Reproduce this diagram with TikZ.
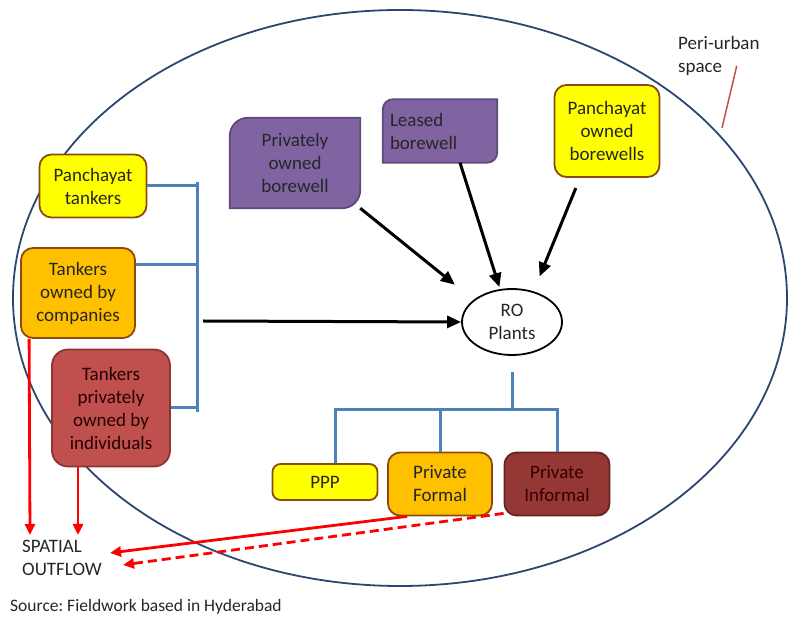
\documentclass[tikz,border=0pt]{standalone}
\usepackage{fontspec}
\setmainfont{Carlito}
\usetikzlibrary{arrows.meta,shapes.geometric,backgrounds}

\definecolor{ylw}{HTML}{FFFF00}
\definecolor{org}{HTML}{FFC000}
\definecolor{brn}{HTML}{8A4A10}
\definecolor{rust}{HTML}{C0504D}
\definecolor{rustd}{HTML}{8C3432}
\definecolor{maroon}{HTML}{953735}
\definecolor{maroond}{HTML}{632523}
\definecolor{purp}{HTML}{8064A2}
\definecolor{purpd}{HTML}{5F497A}
\definecolor{bline}{HTML}{4F81BD}
\definecolor{rimc}{HTML}{2C4670}
\definecolor{txt}{HTML}{262626}
\definecolor{pline}{HTML}{C0504D}

\frenchspacing
\begin{document}
\begin{tikzpicture}[x=1pt,y=1pt,
  font=\fontsize{19}{23}\selectfont,
  box/.style={rectangle,rounded corners=12pt,line width=1.8pt,align=center,inner sep=0pt,text=txt},
  pbox/.style={rectangle,align=center,inner sep=0pt,text=txt},
  feed/.style={draw=bline,line width=3pt},
  flow/.style={draw=black,line width=3pt,-{Triangle[length=14pt,width=12pt]}},
  outflow/.style={draw=red,line width=2.8pt,-{Triangle[length=11pt,width=10pt]}}]

\useasboundingbox (0,0) rectangle (790,616);

% peri-urban space
\node[ellipse,draw=rimc,line width=1.8pt,minimum width=774pt,minimum height=576pt] (space) at (400,318) {};

% tankers
\node[box,fill=ylw,draw=brn,minimum width=107pt,minimum height=63pt] (ptank) at (93,430) {Panchayat\\tankers};
\node[box,fill=org,draw=brn,minimum width=114pt,minimum height=90pt] (tcomp) at (78,323) {Tankers\\owned by\\companies};
\node[box,fill=rust,draw=rustd,rounded corners=16pt,minimum width=118pt,minimum height=117pt,text=black!85!red] (tpriv) at (111,208) {Tankers\\privately\\owned by\\individuals};

% borewells
\node[pbox,minimum width=130pt,minimum height=90pt] (pob) at (295,453) {Privately\\owned\\borewell};
\node[pbox,text width=100pt,align=left,inner xsep=7pt,minimum height=63pt] (lease) at (440,485) {Leased\\borewell};
\node[box,fill=ylw,draw=brn,minimum width=105pt,minimum height=92pt] (pobw) at (607,485) {Panchayat\\owned\\borewells};
\begin{scope}[on background layer]
\filldraw[fill=purp,draw=purpd,line width=1.8pt] ([yshift=-18pt]pob.north west) arc[start angle=180,end angle=90,radius=18pt] -- (pob.north east) -- ([yshift=18pt]pob.south east) arc[start angle=0,end angle=-90,radius=18pt] -- (pob.south west) -- cycle;
\filldraw[fill=purp,draw=purpd,line width=1.8pt] ([yshift=-10pt]lease.north west) arc[start angle=180,end angle=90,radius=10pt] -- (lease.north east) -- ([yshift=10pt]lease.south east) arc[start angle=0,end angle=-90,radius=10pt] -- (lease.south west) -- cycle;
\end{scope}

% RO plants
\node[ellipse,draw=black,line width=1.8pt,fill=white,minimum width=100pt,minimum height=66pt,inner sep=0pt,align=center,text=txt] (ro) at (512,294) {RO\\Plants};

% outlets
\node[box,fill=ylw,draw=brn,rounded corners=8pt,minimum width=105pt,minimum height=36pt] (ppp) at (325,134) {PPP};
\node[box,fill=org,draw=brn,minimum width=104pt,minimum height=63pt] (pform) at (440,132) {Private\\Formal};
\node[box,fill=maroon,draw=maroond,minimum width=105pt,minimum height=63pt,text=black!80!red] (pinf) at (557,132) {Private\\Informal};

% labels
\node[align=left,anchor=north west,inner sep=0pt,text=txt] (peri) at (678,580) {Peri-urban\\space};
\node[align=left,anchor=north west,inner sep=0pt,text=txt] (spat) at (22,76) {SPATIAL\\OUTFLOW};
\node[anchor=base west,inner sep=0pt,text=txt,font=\fontsize{17.5}{20}\selectfont] (src) at (10,5) {Source: Fieldwork based in Hyderabad};

% tanker supply
\coordinate (busT) at (197,434);
\coordinate (busB) at (197,204);
\coordinate (busout) at (203,295);
\draw[feed] (ptank.east) -- (ptank.east -| busT);
\draw[feed] ([yshift=28pt]tcomp.east) -- ([yshift=28pt]tcomp.east -| busT);
\draw[feed] (tpriv.east) -- (tpriv.east -| busB);
\draw[feed] (busT) -- (busB);
\draw[flow] (busout) -- (ro.west);

% borewell supply
\draw[flow,shorten >=24pt] (pob.south east) -- (ro.150);
\draw[flow,shorten >=2pt] ([xshift=20pt]lease.south) -- (ro.110);
\draw[flow,shorten <=11pt,shorten >=16pt] ([xshift=-27pt]pobw.south) -- (ro.55);

% RO to outlets
\coordinate (hub) at (512,206);
\draw[feed] ([yshift=-16pt]ro.south) -- (hub);
\draw[feed] ([xshift=10pt]ppp.north) |- (hub);
\draw[feed] (pform.north) -- (pform.north |- hub);
\draw[feed] (pinf.north) |- (hub);

% outflow
\coordinate (o1) at (30,81);
\coordinate (o2) at (78,81);
\draw[outflow] ([xshift=9pt]tcomp.south west) -- (o1);
\draw[outflow] (tpriv.south -| o2) -- (o2);
\draw[outflow] ([xshift=20pt]pform.south west) -- ([xshift=8pt,yshift=5pt]spat.east);
\draw[outflow,dash pattern=on 9pt off 5pt] ([yshift=3pt]pinf.south west) -- ([xshift=21pt,yshift=-7pt]spat.east);

% rim pointer
\draw[pline,line width=1.5pt] ([xshift=-23pt,yshift=-10pt]peri.east) -- (722,488);

\end{tikzpicture}
\end{document}
